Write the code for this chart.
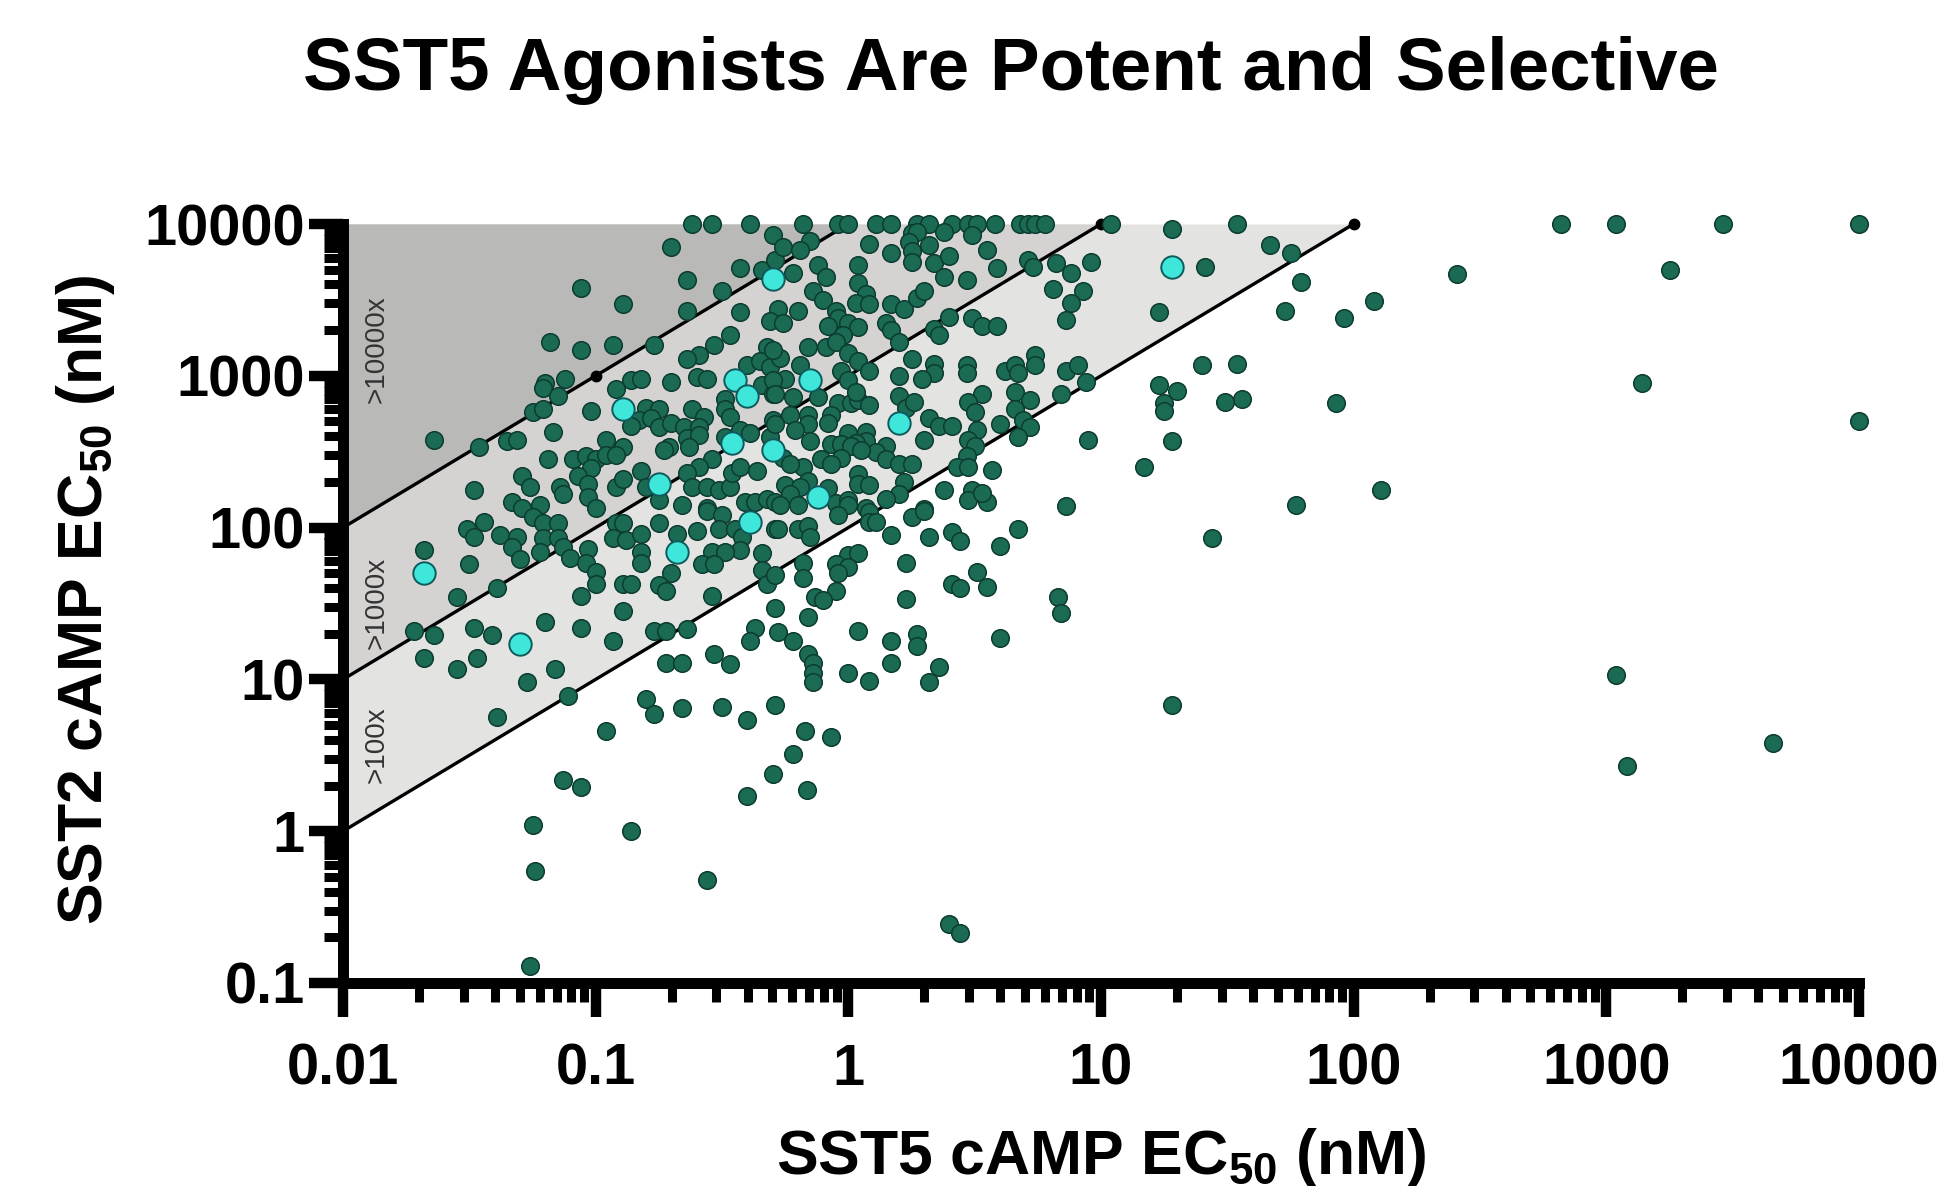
import numpy as np, pandas as pd, seaborn as sns
import matplotlib
matplotlib.use("Agg")
import matplotlib.pyplot as plt
from matplotlib.ticker import LogLocator, NullFormatter, FixedFormatter, FixedLocator

# All pairs are (log10 SST5 EC50 nM, log10 SST2 EC50 nM)
upper_left = [(-0.62,4),(-0.54,4),(-0.39,4),(-0.30,3.93),(-0.70,3.85),(-0.43,3.71),(-0.64,3.63),(-0.50,3.56),(-0.34,3.70),(-0.29,3.76),
(-1.06,3.58),(-0.89,3.47),(-0.64,3.43),(-0.43,3.42),(-1.18,3.22),(-1.06,3.17),(-0.93,3.20),(-0.77,3.20),(-0.47,3.27),(-0.53,3.20),
(-0.59,3.14),(-0.64,3.11),(-0.28,3.44),(-0.31,3.36),(-0.32,3.19),(-0.40,3.07),(-0.35,3.10),(-0.31,3.06),(-1.20,2.95),(-1.21,2.92),
(-1.12,2.98),(-1.15,2.87),(-0.86,2.97),(-0.82,2.98),(-0.92,2.91),(-0.70,2.96),(-0.60,2.99),(-0.56,2.98),(-0.34,2.94),(-0.30,2.88),
(-1.25,2.76),(-1.21,2.78),(-1.02,2.77),(-0.80,2.79),(-0.75,2.78),(-0.83,2.71),(-0.78,2.72),(-0.86,2.67),(-0.75,2.66),(-0.70,2.69),
(-0.62,2.78),(-0.57,2.73),(-0.49,2.85),(-0.49,2.78),(-0.47,2.73),(-0.30,2.71),(-1.17,2.63),(-1.64,2.58),(-1.46,2.53),(-1.35,2.57),
(-1.31,2.58),(-0.96,2.58),(-0.89,2.53),(-0.65,2.66),(-0.59,2.66),(-0.64,2.59),(-0.59,2.61),(-0.63,2.53),(-0.71,2.53),(-0.73,2.51),
(-0.49,2.60),(-0.43,2.64),(-0.39,2.62),(-0.31,2.60),(-1.19,2.45),(-1.09,2.45),(-1.04,2.47),(-1.00,2.45),(-0.96,2.48),(-0.92,2.48),
(-1.02,2.39),(-1.07,2.34),(-1.03,2.29),(-1.29,2.34),(-1.26,2.27),(-1.14,2.27),(-1.13,2.22),(-1.03,2.20),(-1.00,2.13),(-1.48,2.25),
(-1.33,2.17),(-1.22,2.15),(-1.29,2.13),(-0.92,2.27),(-0.89,2.32),(-0.82,2.37),(-0.80,2.27),(-0.54,2.45),(-0.59,2.40),(-0.64,2.36),
(-0.62,2.27),(-0.56,2.27),(-0.51,2.25),(-0.47,2.27),(-0.46,2.36),(-0.43,2.40),(-0.36,2.37),(-0.41,2.17),(-0.37,2.17),(-0.32,2.19),
(-0.75,2.18),(-0.66,2.15),(-0.56,2.13),(-0.29,2.17)]

lower_left = [(-1.25,2.07),(-1.21,2.03),(-1.15,2.03),(-1.44,2.04),(-1.51,1.99),(-1.48,1.94),(-1.38,1.95),(-1.31,1.94),(-1.33,1.87),(-1.21,1.93),
(-1.15,1.93),(-1.13,1.87),(-1.22,1.84),(-1.30,1.79),(-1.10,1.80),(-1.03,1.86),(-1.04,1.77),(-1.00,1.71),(-1.00,1.63),(-0.92,2.03),
(-0.89,2.03),(-0.93,1.93),(-0.88,1.92),(-0.82,1.96),(-0.82,1.84),(-0.82,1.77),(-0.75,2.03),(-0.68,1.96),(-0.60,1.98),(-0.56,2.11),
(-0.50,2.08),(-0.51,1.99),(-0.45,1.99),(-0.42,1.94),(-0.43,1.85),(-0.29,1.99),(-0.54,1.84),(-0.49,1.84),(-0.58,1.76),(-0.53,1.76),
(-0.34,1.83),(-0.34,1.72),(-0.32,1.63),(-0.29,1.69),(-0.70,1.70),(-0.75,1.62),(-0.72,1.58),(-0.89,1.63),(-0.86,1.63),(-0.54,1.55),
(-1.06,1.55),(-0.89,1.45),(-1.68,1.85),(-1.50,1.76),(-1.39,1.60),(-1.55,1.54),(-1.72,1.32),(-1.64,1.29),(-1.48,1.34),(-1.41,1.29),
(-1.20,1.38),(-1.06,1.34),(-0.93,1.25),(-0.77,1.32),(-0.72,1.32),(-0.64,1.33),(-1.68,1.14),(-1.55,1.07),(-1.47,1.14),(-1.16,1.07),
(-1.27,0.98),(-1.11,0.89),(-1.39,0.75),(-0.96,0.66),(-0.80,0.87),(-0.77,0.77),(-0.66,0.81),(-0.50,0.82),(-0.40,0.73),(-0.29,0.83),
(-0.72,1.11),(-0.66,1.11),(-0.53,1.17),(-0.47,1.10),(-0.37,1.34),(-0.39,1.25),(-0.28,1.31),(-0.29,1.47),(-1.13,0.34),(-1.06,0.29),
(-0.30,0.38),(-0.40,0.23),(-1.25,0.04),(-1.24,-0.26),(-0.86,0.00),(-1.26,-0.89),(-0.56,-0.32),(0.40,-0.61),(0.44,-0.67)]

upper_mid = [(-0.18,4),(-0.04,4),(0.00,4),(0.11,4),(0.17,4),(0.27,4),(0.32,4),(0.41,4),(0.475,4),(0.51,4),(0.58,4),(0.68,4),(0.71,4),(0.74,4),(0.78,4),
(1.04,4),(1.28,3.97),(-0.15,3.89),(-0.26,3.85),(-0.19,3.83),(0.08,3.87),(0.17,3.81),(0.25,3.94),(0.27,3.95),(0.49,3.93),(0.38,3.95),
(0.24,3.88),(0.32,3.86),(0.25,3.82),(0.25,3.75),(0.34,3.74),(0.40,3.79),(0.38,3.65),(0.47,3.63),(0.55,3.83),(0.59,3.71),(0.71,3.76),
(0.73,3.72),(0.82,3.74),(0.88,3.68),(0.96,3.75),(0.81,3.57),(0.93,3.56),(0.88,3.48),(0.86,3.37),(1.41,3.72),(1.23,3.42),(-0.22,3.68),
(-0.12,3.73),(-0.09,3.65),(0.04,3.73),(0.04,3.61),(0.07,3.54),(0.03,3.48),(0.08,3.47),(-0.14,3.56),(-0.10,3.50),(0.17,3.47),(0.22,3.44),
(0.27,3.51),(0.30,3.56),(0.40,3.39),(0.34,3.31),(0.36,3.27),(0.49,3.38),(0.53,3.33),(0.59,3.33),(-0.20,3.43),(-0.26,3.35),(-0.05,3.43),
(-0.04,3.38),(-0.08,3.33),(0.00,3.35),(0.04,3.32),(0.15,3.35),(0.17,3.30),(0.20,3.22),(-0.02,3.27),(-0.09,3.19),(-0.16,3.19),(-0.05,3.22),
(0.00,3.15),(0.04,3.10),(0.08,3.03),(-0.03,3.03),(0.00,2.97),(-0.19,3.07),(-0.25,2.98),(-0.27,3.12),(-0.30,3.17),(-0.30,2.97),(-0.12,2.86),
(-0.22,2.86),(-0.29,2.88),(-0.04,2.82),(0.01,2.82),(0.04,2.84),(0.08,2.81),(0.03,2.89),(-0.07,2.74),(-0.08,2.69),(-0.16,2.74),(-0.23,2.74),
(-0.16,2.68),(-0.21,2.64),(-0.15,2.57),(-0.29,2.68),(0.25,3.11),(0.34,3.08),(0.34,3.02),(0.29,2.98),(0.20,3.00),(0.20,2.87),(0.23,2.79),
(0.26,2.83),(0.47,3.07),(0.47,3.02),(0.62,3.03),(0.66,3.07),(0.67,3.02),(0.74,3.14),(0.74,3.07),(0.86,3.03),(0.91,3.07),(0.94,2.96),
(0.84,2.88),(0.66,2.89),(0.72,2.84),(0.66,2.78),(0.69,2.71),(0.72,2.66),(0.67,2.60),(0.60,2.68),(0.53,2.88),(0.475,2.83),(0.50,2.76),
(0.32,2.72),(0.36,2.67),(0.41,2.67),(0.30,2.58),(0.51,2.64),(0.475,2.58),(0.50,2.54),(0.47,2.47),(0.43,2.40),(0.475,2.40),(0.57,2.38),
(0.38,2.25),(0.49,2.25),(0.475,2.18),(0.55,2.17),(0.53,2.23),(0.95,2.58),(1.28,2.57),(1.17,2.40),(1.40,3.07),(1.23,2.94),(1.30,2.90),
(1.25,2.82),(1.25,2.77),(0.86,2.14),(0.07,2.63),(0.00,2.62),(0.07,2.57),(0.03,2.56),(-0.07,2.55),(-0.03,2.55),(0.01,2.54),(0.15,2.54),
(0.11,2.50),(-0.03,2.46),(-0.11,2.45),(-0.07,2.42),(0.05,2.51),(0.15,2.45),(0.20,2.42),(0.25,2.42),(-0.18,2.40),(-0.16,2.31),(0.04,2.35),
(0.04,2.29),(0.08,2.28),(0.22,2.30),(0.20,2.22),(0.15,2.19),(-0.25,2.28),(-0.19,2.27),(-0.23,2.22),(-0.20,2.15),(-0.27,2.15),(-0.08,2.26),
(-0.05,2.16),(0.00,2.18),(0.00,2.15),(0.07,2.13),(0.30,2.12),(-0.26,2.46),(-0.23,2.42)]

lower_mid = [(-0.28,1.99),(-0.20,1.99),(-0.16,2.01),(-0.15,1.94),(-0.04,2.08),(0.08,2.10),(0.08,2.04),(0.11,2.04),(0.17,1.95),(0.25,2.07),(0.30,2.11),
(0.32,1.94),(0.41,1.97),(0.44,1.91),(0.67,1.99),(0.60,1.88),(1.44,1.93),(0.00,1.82),(0.04,1.83),(-0.05,1.76),(0.00,1.74),(-0.04,1.70),
(-0.18,1.77),(-0.18,1.67),(0.23,1.77),(0.23,1.53),(0.51,1.71),(0.41,1.63),(0.44,1.60),(0.55,1.61),(-0.05,1.58),(-0.13,1.54),(-0.10,1.52),
(-0.16,1.41),(-0.22,1.25),(0.83,1.54),(0.84,1.44),(0.60,1.27),(0.04,1.32),(0.17,1.25),(0.27,1.30),(0.27,1.22),(0.17,1.11),(0.36,1.08),
(0.32,0.98),(-0.16,1.17),(-0.14,1.11),(-0.14,1.04),(-0.14,0.98),(0.00,1.04),(0.08,0.99),(1.28,0.83),(-0.17,0.66),(-0.07,0.62),(-0.22,0.51),(-0.165,0.27)]

far_right = [(1.54,4),(1.67,3.86),(1.75,3.81),(1.79,3.62),(1.73,3.43),(1.96,3.38),(2.08,3.49),(2.41,3.67),(2.82,4),(3.04,4),(3.46,4),(4,4),(3.25,3.70),
(3.14,2.95),(4,2.70),(2.11,2.25),(1.77,2.15),(1.93,2.82),(3.04,1.03),(3.08,0.43),(3.66,0.58),(1.54,3.08),(1.56,2.85),(1.49,2.83)]

highlighted = [(-1.68,1.70),(-1.30,1.23),(-0.89,2.78),(-0.75,2.29),(-0.68,1.84),(-0.45,2.97),(-0.40,2.87),(-0.46,2.56),(-0.39,2.04),(-0.30,2.51),
(-0.30,3.64),(-0.15,2.97),(-0.12,2.20),(0.20,2.69),(1.28,3.72)]

fold_limits = [100, 1000, 10000]
fold_labels = [">100x", ">1000x", ">10000x"]
fold_label_y = [3.7, 32, 1500]
band_colors = ["#e3e3e1", "#d5d3d2", "#b9b9b7"]
x_ticks = [0.01, 0.1, 1, 10, 100, 1000, 10000]
x_tick_labels = ["0.01", "0.1", "1", "10", "100", "1000", "10000"]
y_ticks = [0.1, 1, 10, 100, 1000, 10000]
y_tick_labels = ["0.1", "1", "10", "100", "1000", "10000"]
guide_x = np.array([0.01, 0.1, 1, 10, 100, 1000])
guide_dot_x = [0.1, 10, 100]
guide_dot_y = [1000, 10000, 10000]

sns.set_theme(style="ticks")
plt.rcParams['font.family'] = ['Liberation Sans', 'DejaVu Sans']
plt.rcParams['mathtext.fontset'] = 'custom'
plt.rcParams['mathtext.bf'] = 'Liberation Sans:bold'
plt.rcParams['mathtext.rm'] = 'Liberation Sans'

compounds = pd.DataFrame(upper_left + lower_left + upper_mid + lower_mid + far_right, columns=["sst5", "sst2"])
hl = pd.DataFrame(highlighted, columns=["sst5", "sst2"])

fig = plt.figure(figsize=(19.44, 11.86), dpi=100)
ax = fig.add_axes([343/1944, 1-983/1186, (1859-343)/1944, (983-224)/1186])
ax.set_xscale("log"); ax.set_yscale("log")
ax.set_xlim(0.01, 10000); ax.set_ylim(0.1, 10000)

top = 10000
for lim, col in zip(fold_limits, band_colors):
    lower = guide_x * lim
    ax.fill_between(guide_x, np.minimum(lower, top), top, color=col, lw=0, zorder=1)
for lim in fold_limits:
    gx = guide_x[guide_x * lim <= top]
    ax.plot(gx, gx * lim, color="black", lw=2.4, zorder=2)
ax.plot(guide_dot_x, guide_dot_y, ls="none", marker="o", ms=7.5, color="black", zorder=2, clip_on=False)

sns.scatterplot(x=10**compounds.sst5, y=10**compounds.sst2, ax=ax, s=160, color="#1b6b54",
                edgecolor="#0c3b30", linewidth=1.1, zorder=3, clip_on=False)
sns.scatterplot(x=10**hl.sst5, y=10**hl.sst2, ax=ax, s=260, color="#3fe6da",
                edgecolor="#0e5a5c", linewidth=1.4, zorder=4, clip_on=False)

for t, yy in zip(fold_labels, fold_label_y):
    ax.text(0.0136, yy, t, rotation=90, ha="center", va="center", fontsize=20, color="#333333", zorder=5)

sns.despine(ax=ax)
for s in ["left", "bottom"]:
    ax.spines[s].set_linewidth(7.9)
    ax.spines[s].set_color("black")
    ax.spines[s].set_zorder(6)
ax.xaxis.set_major_locator(FixedLocator(x_ticks)); ax.xaxis.set_major_formatter(FixedFormatter(x_tick_labels))
ax.yaxis.set_major_locator(FixedLocator(y_ticks)); ax.yaxis.set_major_formatter(FixedFormatter(y_tick_labels))
minor = LogLocator(base=10, subs=np.arange(2, 10), numticks=20)
ax.xaxis.set_minor_locator(minor); ax.yaxis.set_minor_locator(LogLocator(base=10, subs=np.arange(2, 10), numticks=20))
ax.xaxis.set_minor_formatter(NullFormatter()); ax.yaxis.set_minor_formatter(NullFormatter())
ax.tick_params(axis="both", which="major", length=24.5, width=7.5, color="black")
ax.tick_params(axis="both", which="minor", length=13.7, width=6.5, color="black")
ax.tick_params(axis="x", which="major", pad=18.5)
ax.tick_params(axis="y", which="major", pad=3)
for lab in ax.get_xticklabels() + ax.get_yticklabels():
    lab.set_fontsize(41.6); lab.set_fontweight("bold"); lab.set_color("black")

ax.set_xlabel(r"SST5 cAMP EC$_{\mathbf{50}}$ (nM)", fontsize=45, fontweight="bold", color="black")
ax.set_ylabel(r"SST2 cAMP EC$_{\mathbf{50}}$ (nM)", fontsize=45, fontweight="bold", color="black")
ax.xaxis.set_label_coords(1101/1944, 1-1174/1186, transform=fig.transFigure)
ax.xaxis.label.set_va("baseline")
ax.yaxis.set_label_coords(102/1944, 1-600/1186, transform=fig.transFigure)
ax.yaxis.label.set_va("baseline")
fig.text(1011/1944, 1-90/1186, "SST5 Agonists Are Potent and Selective", ha="center", va="baseline",
         fontsize=53.7, fontweight="bold", color="black")
fig.savefig("out.png", dpi=100)
